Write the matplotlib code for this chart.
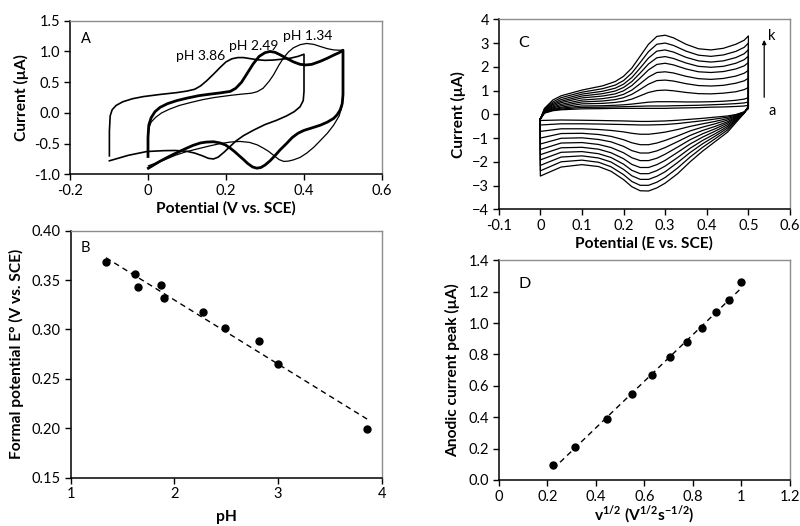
import numpy as np
import matplotlib
matplotlib.use("Agg")
import matplotlib.pyplot as plt

plt.rcParams['font.family'] = ['Lato', 'DejaVu Sans']
plt.rcParams['mathtext.fontset'] = 'custom'
plt.rcParams['mathtext.rm'] = 'Lato'
plt.rcParams['mathtext.bf'] = 'Lato:bold'

# ---------------- Panel A data (CV at different pH) ----------------
a386_V = [-0.099, -0.099, -0.097, -0.092, -0.082, -0.065, -0.040, -0.012, 0.031, 0.074, 0.100, 0.120, 0.135, 0.150, 0.168, 0.185, 0.200, 0.215, 0.230, 0.245, 0.260, 0.280, 0.300, 0.322, 0.345, 0.365, 0.385, 0.400,
          0.400, 0.398, 0.390, 0.375, 0.355, 0.330, 0.300, 0.271, 0.245, 0.225, 0.210, 0.195, 0.180, 0.168, 0.155, 0.140, 0.120, 0.099, 0.070, 0.040, -0.003, -0.050, -0.099]
a386_I = [-0.70, -0.30, -0.05, 0.05, 0.12, 0.18, 0.23, 0.265, 0.30, 0.33, 0.355, 0.385, 0.44, 0.52, 0.63, 0.74, 0.83, 0.88, 0.90, 0.90, 0.885, 0.865, 0.855, 0.86, 0.875, 0.89, 0.92, 0.955,
          0.35, 0.20, 0.10, 0.02, -0.05, -0.12, -0.19, -0.28, -0.37, -0.46, -0.55, -0.64, -0.72, -0.75, -0.74, -0.70, -0.655, -0.625, -0.612, -0.615, -0.629, -0.69, -0.78]

a249_V = [0.0, 0.0, 0.002, 0.008, 0.018, 0.031, 0.050, 0.074, 0.100, 0.130, 0.159, 0.185, 0.211, 0.225, 0.240, 0.255, 0.270, 0.285, 0.300, 0.313, 0.326, 0.339, 0.356, 0.373, 0.390, 0.405, 0.420, 0.442, 0.460, 0.476, 0.490, 0.500,
          0.500, 0.498, 0.493, 0.485, 0.476, 0.460, 0.442, 0.420, 0.400, 0.385, 0.370, 0.355, 0.339, 0.325, 0.313, 0.300, 0.289, 0.279, 0.268, 0.255, 0.245, 0.236, 0.222, 0.211, 0.198, 0.185, 0.168, 0.150, 0.134, 0.115, 0.099, 0.080, 0.057, 0.030, 0.001]
a249_I = [-0.71, -0.40, -0.20, -0.08, 0.02, 0.09, 0.15, 0.20, 0.24, 0.28, 0.305, 0.325, 0.35, 0.40, 0.50, 0.65, 0.80, 0.92, 0.98, 1.00, 0.985, 0.945, 0.885, 0.83, 0.79, 0.78, 0.79, 0.84, 0.89, 0.94, 0.98, 1.02,
          0.30, 0.15, 0.05, -0.03, -0.09, -0.15, -0.20, -0.245, -0.285, -0.33, -0.40, -0.50, -0.60, -0.70, -0.78, -0.85, -0.89, -0.90, -0.88, -0.82, -0.76, -0.71, -0.63, -0.575, -0.52, -0.49, -0.47, -0.475, -0.49, -0.53, -0.575, -0.63, -0.70, -0.79, -0.90]

a134_V = [0.0, 0.0, 0.002, 0.008, 0.020, 0.035, 0.055, 0.080, 0.110, 0.140, 0.170, 0.211, 0.240, 0.265, 0.280, 0.295, 0.310, 0.322, 0.335, 0.348, 0.360, 0.373, 0.390, 0.407, 0.425, 0.442, 0.460, 0.476, 0.490, 0.500,
          0.500, 0.498, 0.490, 0.476, 0.460, 0.442, 0.425, 0.407, 0.390, 0.373, 0.360, 0.348, 0.336, 0.322, 0.309, 0.296, 0.280, 0.260, 0.236, 0.211, 0.185, 0.160, 0.134, 0.099, 0.070, 0.040, 0.001]
a134_I = [-0.656, -0.45, -0.25, -0.15, -0.07, 0.0, 0.06, 0.12, 0.17, 0.215, 0.25, 0.285, 0.305, 0.32, 0.345, 0.40, 0.51, 0.62, 0.77, 0.90, 0.99, 1.06, 1.11, 1.13, 1.115, 1.08, 1.045, 1.025, 1.02, 1.02,
          0.30, 0.12, -0.05, -0.20, -0.33, -0.45, -0.56, -0.655, -0.725, -0.765, -0.785, -0.79, -0.76, -0.69, -0.625, -0.575, -0.52, -0.48, -0.465, -0.475, -0.50, -0.535, -0.575, -0.63, -0.69, -0.77, -0.862]

# ---------------- Panel B data ----------------
pH_vals = [1.34, 1.62, 1.65, 1.87, 1.90, 2.28, 2.49, 2.82, 3.00, 3.86]
E_vals = [0.368, 0.356, 0.3425, 0.3446, 0.332, 0.318, 0.301, 0.288, 0.2646, 0.1997]

# ---------------- Panel C data (CV at scan rates a..k) ----------------
c_Vf = [0.0, 0.01, 0.03, 0.05, 0.10, 0.15, 0.18, 0.20, 0.22, 0.24, 0.26, 0.28, 0.30, 0.32, 0.35, 0.38, 0.41, 0.44, 0.47, 0.49, 0.50]
c_Vr = [0.50, 0.49, 0.47, 0.45, 0.42, 0.39, 0.36, 0.33, 0.30, 0.28, 0.26, 0.24, 0.22, 0.20, 0.17, 0.14, 0.10, 0.05, 0.0]
c_fwd = {
    'k': [-0.2, 0.25, 0.60, 0.78, 1.02, 1.20, 1.38, 1.60, 1.95, 2.45, 2.95, 3.28, 3.33, 3.22, 2.95, 2.76, 2.71, 2.78, 2.95, 3.12, 3.30],
    'j': [-0.2, 0.22, 0.52, 0.70, 0.93, 1.08, 1.23, 1.42, 1.74, 2.18, 2.64, 2.95, 3.00, 2.90, 2.66, 2.49, 2.44, 2.50, 2.65, 2.82, 3.00],
    'i': [-0.2, 0.20, 0.46, 0.62, 0.85, 0.97, 1.10, 1.27, 1.55, 1.95, 2.37, 2.66, 2.71, 2.62, 2.40, 2.25, 2.20, 2.25, 2.39, 2.55, 2.72],
    'h': [-0.2, 0.18, 0.41, 0.55, 0.77, 0.87, 0.98, 1.13, 1.38, 1.74, 2.12, 2.38, 2.43, 2.35, 2.16, 2.02, 1.98, 2.02, 2.15, 2.30, 2.45],
    'g': [-0.2, 0.16, 0.36, 0.49, 0.69, 0.77, 0.86, 0.99, 1.21, 1.53, 1.87, 2.10, 2.15, 2.08, 1.91, 1.79, 1.76, 1.80, 1.91, 2.04, 2.18],
    'f': [-0.2, 0.14, 0.31, 0.42, 0.60, 0.66, 0.74, 0.84, 1.02, 1.29, 1.57, 1.76, 1.79, 1.74, 1.60, 1.50, 1.47, 1.51, 1.61, 1.73, 1.85],
    'e': [-0.2, 0.12, 0.27, 0.36, 0.52, 0.56, 0.62, 0.70, 0.84, 1.05, 1.27, 1.42, 1.44, 1.40, 1.29, 1.21, 1.19, 1.22, 1.31, 1.41, 1.52],
    'd': [-0.2, 0.10, 0.23, 0.30, 0.44, 0.46, 0.50, 0.55, 0.64, 0.78, 0.92, 1.00, 1.02, 0.99, 0.92, 0.87, 0.86, 0.89, 0.95, 1.04, 1.13],
    'c': [-0.2, 0.08, 0.20, 0.26, 0.35, 0.36, 0.38, 0.40, 0.43, 0.47, 0.51, 0.53, 0.53, 0.53, 0.52, 0.52, 0.53, 0.55, 0.59, 0.64, 0.70],
    'b': [-0.2, 0.06, 0.17, 0.22, 0.29, 0.30, 0.31, 0.32, 0.33, 0.34, 0.35, 0.35, 0.35, 0.36, 0.37, 0.38, 0.40, 0.42, 0.45, 0.48, 0.52],
    'a': [-0.2, 0.05, 0.15, 0.19, 0.23, 0.24, 0.25, 0.25, 0.25, 0.25, 0.25, 0.25, 0.25, 0.26, 0.27, 0.28, 0.30, 0.31, 0.33, 0.35, 0.38],
}
c_rev = {
    'k': [0.35, 0.05, -0.35, -0.75, -1.15, -1.55, -2.00, -2.50, -2.90, -3.10, -3.23, -3.22, -3.05, -2.75, -2.40, -2.20, -2.12, -2.22, -2.60],
    'j': [0.33, 0.05, -0.30, -0.66, -1.03, -1.39, -1.80, -2.26, -2.66, -2.86, -2.99, -2.99, -2.83, -2.54, -2.21, -2.02, -1.93, -2.00, -2.38],
    'i': [0.32, 0.06, -0.26, -0.58, -0.92, -1.24, -1.61, -2.03, -2.42, -2.61, -2.74, -2.74, -2.59, -2.32, -2.01, -1.84, -1.75, -1.80, -2.15],
    'h': [0.31, 0.06, -0.22, -0.51, -0.82, -1.10, -1.43, -1.82, -2.18, -2.37, -2.50, -2.50, -2.36, -2.10, -1.82, -1.66, -1.57, -1.60, -1.92],
    'g': [0.30, 0.07, -0.18, -0.44, -0.71, -0.96, -1.25, -1.60, -1.94, -2.12, -2.24, -2.24, -2.11, -1.87, -1.62, -1.47, -1.39, -1.41, -1.70],
    'f': [0.29, 0.07, -0.15, -0.37, -0.61, -0.82, -1.07, -1.38, -1.68, -1.85, -1.95, -1.95, -1.83, -1.62, -1.40, -1.27, -1.19, -1.21, -1.48],
    'e': [0.28, 0.08, -0.12, -0.31, -0.51, -0.68, -0.89, -1.15, -1.40, -1.54, -1.63, -1.63, -1.53, -1.35, -1.16, -1.06, -0.99, -1.01, -1.25],
    'd': [0.27, 0.08, -0.09, -0.24, -0.40, -0.54, -0.70, -0.91, -1.10, -1.21, -1.28, -1.28, -1.20, -1.07, -0.93, -0.85, -0.80, -0.81, -1.00],
    'c': [0.26, 0.09, -0.06, -0.18, -0.30, -0.40, -0.51, -0.64, -0.75, -0.80, -0.84, -0.84, -0.80, -0.74, -0.68, -0.64, -0.61, -0.61, -0.72],
    'b': [0.25, 0.10, -0.03, -0.12, -0.20, -0.27, -0.33, -0.39, -0.43, -0.44, -0.45, -0.45, -0.44, -0.43, -0.42, -0.41, -0.40, -0.40, -0.45],
    'a': [0.24, 0.10, -0.01, -0.07, -0.12, -0.17, -0.21, -0.25, -0.28, -0.29, -0.30, -0.30, -0.29, -0.28, -0.27, -0.26, -0.25, -0.24, -0.26],
}

# ---------------- Panel D data ----------------
sqrt_v = [0.224, 0.316, 0.447, 0.548, 0.632, 0.707, 0.775, 0.837, 0.894, 0.949, 1.0]
Ipa = [0.096, 0.208, 0.386, 0.548, 0.667, 0.781, 0.877, 0.968, 1.068, 1.146, 1.259]

# tick labels
A_xticks = [-0.2, 0, 0.2, 0.4, 0.6]; A_xlabels = ['-0.2', '0', '0.2', '0.4', '0.6']
A_yticks = [-1.0, -0.5, 0.0, 0.5, 1.0, 1.5]
B_xticks = [1, 2, 3, 4]
B_yticks = [0.15, 0.20, 0.25, 0.30, 0.35, 0.40]
C_xticks = [-0.1, 0, 0.1, 0.2, 0.3, 0.4, 0.5, 0.6]; C_xlabels = ['-0.1', '0', '0.1', '0.2', '0.3', '0.4', '0.5', '0.6']
C_yticks = [-4, -3, -2, -1, 0, 1, 2, 3, 4]
D_xticks = [0, 0.2, 0.4, 0.6, 0.8, 1.0, 1.2]; D_xlabels = ['0', '0.2', '0.4', '0.6', '0.8', '1', '1.2']
D_yticks = [0.0, 0.2, 0.4, 0.6, 0.8, 1.0, 1.2, 1.4]

fig = plt.figure(figsize=(8.0, 5.26), dpi=100)
axA = fig.add_axes([0.0875, 0.6686, 0.390, 0.2920])
axC = fig.add_axes([0.6234, 0.6021, 0.3641, 0.3612])
axB = fig.add_axes([0.0884, 0.0918, 0.3888, 0.4698])
axD = fig.add_axes([0.6234, 0.0875, 0.3641, 0.4176])

TS = 10.5
LS = 11.2

def style(ax):
    for s in ['top', 'right']:
        ax.spines[s].set_color('#8c8c8c')
        ax.spines[s].set_linewidth(1.0)
    for s in ['left', 'bottom']:
        ax.spines[s].set_color('black')
        ax.spines[s].set_linewidth(1.1)
    ax.tick_params(direction='out', length=4, width=1, labelsize=TS, colors='black', pad=3)
    ax.tick_params(top=False, right=False)

# Panel A
axA.plot(a386_V, a386_I, color='black', lw=1.2, solid_joinstyle='round')
axA.plot(a249_V, a249_I, color='black', lw=2.0, solid_joinstyle='round')
axA.plot(a134_V, a134_I, color='black', lw=0.9, solid_joinstyle='round')
axA.set_xlim(-0.2, 0.6); axA.set_ylim(-1.0, 1.5)
axA.set_xticks(A_xticks); axA.set_xticklabels(A_xlabels)
axA.set_yticks(A_yticks); axA.set_yticklabels([f'{v:.1f}' for v in A_yticks])
axA.set_xlabel('Potential (V vs. SCE)', fontsize=LS, fontweight='bold', labelpad=2)
axA.set_ylabel('Current (µA)', fontsize=LS, fontweight='bold', labelpad=4)
axA.text(-0.159, 1.21, 'A', fontsize=TS, ha='center', va='center')
axA.text(0.134, 0.92, 'pH 3.86', fontsize=TS - 0.5, ha='center', va='center')
axA.text(0.271, 1.095, 'pH 2.49', fontsize=TS - 0.5, ha='center', va='center')
axA.text(0.409, 1.25, 'pH 1.34', fontsize=TS - 0.5, ha='center', va='center')
style(axA)

# Panel B
axB.plot(pH_vals, E_vals, 'o', color='black', ms=5)
coef = np.polyfit(pH_vals, E_vals, 1)
xl = np.array([min(pH_vals), max(pH_vals)])
axB.plot(xl, np.polyval(coef, xl), color='black', lw=1.0, dashes=(4, 3))
axB.set_xlim(1, 4); axB.set_ylim(0.15, 0.40)
axB.set_xticks(B_xticks)
axB.set_yticks(B_yticks); axB.set_yticklabels([f'{v:.2f}' for v in B_yticks])
axB.set_xlabel('pH', fontsize=LS, fontweight='bold', labelpad=6)
axB.set_ylabel('Formal potential E° (V vs. SCE)', fontsize=LS, fontweight='bold', labelpad=6)
axB.text(1.145, 0.382, 'B', fontsize=TS, ha='center', va='center')
style(axB)

# Panel C
for key in c_fwd:
    xs = c_Vf + c_Vr + c_Vf[:1]
    ys = c_fwd[key] + c_rev[key] + c_fwd[key][:1]
    axC.plot(xs, ys, color='black', lw=0.9, solid_joinstyle='round')
axC.set_xlim(-0.1, 0.6); axC.set_ylim(-4, 4)
axC.set_xticks(C_xticks); axC.set_xticklabels(C_xlabels)
axC.set_yticks(C_yticks)
axC.set_xlabel('Potential (E vs. SCE)', fontsize=LS, fontweight='bold', labelpad=2)
axC.set_ylabel('Current (µA)', fontsize=LS, fontweight='bold', labelpad=4)
axC.text(-0.039, 2.99, 'C', fontsize=TS + 1, ha='center', va='center')
axC.annotate('', xy=(0.538, 3.25), xytext=(0.538, 0.6),
             arrowprops=dict(arrowstyle='-|>', color='black', lw=0.9, mutation_scale=6))
axC.text(0.548, 3.3, 'k', fontsize=TS, ha='left', va='center')
axC.text(0.548, 0.12, 'a', fontsize=TS, ha='left', va='center')
style(axC)

# Panel D
axD.plot(sqrt_v, Ipa, 'o', color='black', ms=5)
coefD = np.polyfit(sqrt_v, Ipa, 1)
xd = np.array([min(sqrt_v), max(sqrt_v)])
axD.plot(xd, np.polyval(coefD, xd), color='black', lw=1.0, dashes=(4, 3))
axD.set_xlim(0, 1.2); axD.set_ylim(0, 1.4)
axD.set_xticks(D_xticks); axD.set_xticklabels(D_xlabels)
axD.set_yticks(D_yticks); axD.set_yticklabels([f'{v:.1f}' for v in D_yticks])
axD.set_xlabel(r'v$^{\mathbf{1/2}}$ (V$^{\mathbf{1/2}}$s$^{\mathbf{-1/2}}$)', fontsize=LS, fontweight='bold', labelpad=0)
axD.set_ylabel('Anodic current peak (µA)', fontsize=LS, fontweight='bold', labelpad=6)
axD.text(0.108, 1.248, 'D', fontsize=TS + 1, ha='center', va='center')
style(axD)

fig.savefig('out.png', dpi=100)
